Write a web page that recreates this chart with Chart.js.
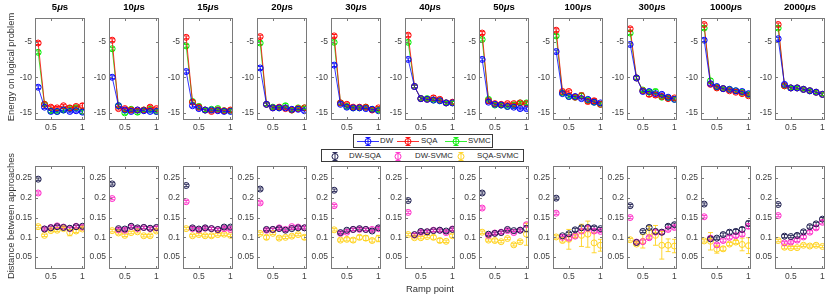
<!DOCTYPE html>
<html>
<head>
<meta charset="utf-8">
<script src="https://cdn.jsdelivr.net/npm/chart.js@4.4.0/dist/chart.umd.min.js"></script>
<style>
  body { margin: 0; background: #fff; width: 830px; height: 296px; position: relative; overflow: hidden;
         font-family: "Liberation Sans", Arial, sans-serif; color: #262626; }
  canvas { position: absolute; }
  .ttl { position: absolute; top: 1px; width: 50px; text-align: center; font-weight: bold; font-size: 9.5px; line-height: 12px; color: #000; }
  .ylab { position: absolute; font-size: 9.4px; color: #333; white-space: nowrap; transform: translate(-50%, -50%) rotate(-90deg); }
  .xlab { position: absolute; font-size: 9.4px; color: #333; white-space: nowrap; transform: translateX(-50%); }
  .legend { position: absolute; border: 1px solid #3a3a3a; background: #fff; font-size: 7.8px; }
  .legend span { position: absolute; top: 0; line-height: 12px; color: #262626; white-space: nowrap; }
  .legend svg { position: absolute; top: -0.5px; }
</style>
</head>
<body>
<script>
// ramp points on the x axis
const rampPoints = [0.3, 0.4, 0.5, 0.6, 0.7, 0.8, 0.9, 1.0];
// annealing times (µs), one column of panels each
const annealTimes = ['5', '10', '15', '20', '30', '40', '50', '100', '300', '1000', '2000'];
const xTicks = [0.5, 1];
const energyTicks = [-15, -10, -5];
const distTicks = [0.05, 0.1, 0.15, 0.2, 0.25];

// top row: energy on logical problem
const energyDW = [
  [-11.4, -14.2, -14.8, -14.8, -14.6, -14.8, -14.7, -14.9],
  [-10.0, -14.0, -14.6, -14.8, -14.6, -14.7, -14.8, -14.8],
  [-9.2, -14.0, -14.4, -14.6, -14.6, -14.7, -14.8, -14.8],
  [-8.7, -13.8, -14.3, -14.3, -14.3, -14.5, -14.5, -14.7],
  [-8.3, -13.8, -14.2, -14.3, -14.3, -14.4, -14.5, -14.7],
  [-7.5, -11.3, -13.0, -13.1, -13.2, -13.3, -13.6, -13.6],
  [-7.5, -13.5, -13.8, -13.9, -14.1, -14.2, -14.4, -14.4],
  [-6.4, -12.3, -12.7, -12.7, -13.0, -13.1, -13.5, -13.6],
  [-5.4, -10.1, -12.0, -12.0, -12.3, -12.4, -12.8, -13.1],
  [-4.8, -10.9, -11.3, -11.6, -11.7, -11.9, -12.0, -12.3],
  [-4.6, -11.0, -11.5, -11.5, -11.7, -11.9, -12.1, -12.4]
];
const energySQA = [
  [-5.2, -13.8, -14.2, -14.3, -14.0, -14.3, -14.1, -14.0],
  [-4.8, -14.4, -14.4, -14.6, -14.6, -14.6, -14.2, -14.4],
  [-4.4, -13.5, -14.2, -14.6, -14.8, -14.6, -14.7, -14.6],
  [-4.3, -13.8, -14.3, -14.2, -14.4, -14.6, -14.4, -14.3],
  [-4.2, -13.6, -13.8, -14.2, -14.2, -14.2, -14.6, -14.3],
  [-4.1, -11.3, -13.0, -13.1, -12.9, -13.1, -13.6, -13.5],
  [-3.8, -13.3, -13.7, -13.8, -13.7, -13.7, -13.6, -13.7],
  [-3.4, -12.0, -12.0, -12.8, -12.6, -13.4, -13.3, -13.8],
  [-3.2, -10.1, -11.9, -12.4, -12.5, -12.7, -13.0, -12.9],
  [-2.6, -11.0, -11.5, -11.6, -11.9, -12.1, -12.3, -12.6],
  [-2.6, -11.2, -11.5, -11.5, -11.7, -11.9, -12.1, -12.4]
];
const energySVMC = [
  [-6.5, -13.8, -14.7, -14.8, -14.6, -14.4, -14.3, -14.8],
  [-6.0, -14.0, -15.0, -14.5, -14.9, -14.6, -14.5, -14.8],
  [-5.6, -13.4, -14.1, -14.6, -14.5, -14.4, -14.7, -14.7],
  [-5.2, -13.8, -14.2, -14.3, -14.0, -14.6, -14.3, -14.3],
  [-5.1, -13.6, -14.1, -14.3, -14.3, -14.2, -14.5, -14.6],
  [-5.1, -11.3, -13.0, -13.0, -13.2, -13.3, -13.6, -13.6],
  [-4.7, -13.1, -13.9, -13.9, -14.1, -13.9, -13.6, -13.6],
  [-4.2, -12.2, -12.7, -12.8, -12.6, -13.2, -13.5, -13.8],
  [-3.8, -10.1, -11.8, -12.1, -12.0, -12.8, -12.9, -13.1],
  [-3.1, -10.5, -11.4, -11.6, -11.7, -11.9, -12.1, -12.4],
  [-3.1, -11.2, -11.5, -11.5, -11.7, -11.9, -12.1, -12.4]
];
const energyErrDW = [
  [0.2, 0.2, 0.2, 0.2, 0.2, 0.2, 0.2, 0.2],
  [0.2, 0.2, 0.2, 0.2, 0.2, 0.2, 0.2, 0.2],
  [0.2, 0.2, 0.2, 0.2, 0.2, 0.2, 0.2, 0.2],
  [0.2, 0.2, 0.2, 0.2, 0.2, 0.2, 0.2, 0.2],
  [0.2, 0.2, 0.2, 0.2, 0.2, 0.2, 0.2, 0.2],
  [0.2, 0.2, 0.2, 0.2, 0.2, 0.2, 0.2, 0.2],
  [0.2, 0.2, 0.2, 0.2, 0.2, 0.2, 0.2, 0.2],
  [0.2, 0.2, 0.2, 0.2, 0.2, 0.2, 0.2, 0.2],
  [0.2, 0.2, 0.2, 0.2, 0.2, 0.2, 0.2, 0.2],
  [0.2, 0.2, 0.2, 0.2, 0.2, 0.2, 0.2, 0.2],
  [0.2, 0.2, 0.2, 0.2, 0.2, 0.2, 0.2, 0.2]
];
const energyErrSQA = [
  [0.2, 0.2, 0.2, 0.2, 0.2, 0.3, 0.2, 0.3],
  [0.2, 0.2, 0.2, 0.2, 0.2, 0.2, 0.2, 0.2],
  [0.2, 0.2, 0.2, 0.2, 0.2, 0.2, 0.2, 0.2],
  [0.2, 0.2, 0.2, 0.2, 0.2, 0.2, 0.2, 0.2],
  [0.2, 0.2, 0.2, 0.2, 0.2, 0.2, 0.2, 0.2],
  [0.2, 0.2, 0.2, 0.2, 0.3, 0.2, 0.2, 0.2],
  [0.2, 0.2, 0.2, 0.2, 0.2, 0.2, 0.2, 0.2],
  [0.2, 0.2, 0.2, 0.2, 0.4, 0.3, 0.3, 0.2],
  [0.2, 0.2, 0.2, 0.3, 0.3, 0.2, 0.2, 0.2],
  [0.2, 0.2, 0.2, 0.2, 0.2, 0.2, 0.2, 0.2],
  [0.2, 0.2, 0.2, 0.2, 0.2, 0.2, 0.2, 0.2]
];
const energyErrSVMC = [
  [0.2, 0.2, 0.3, 0.2, 0.3, 0.2, 0.2, 0.3],
  [0.2, 0.2, 0.2, 0.2, 0.3, 0.2, 0.2, 0.2],
  [0.2, 0.2, 0.3, 0.2, 0.2, 0.2, 0.2, 0.2],
  [0.2, 0.2, 0.2, 0.2, 0.3, 0.2, 0.2, 0.2],
  [0.2, 0.2, 0.2, 0.2, 0.2, 0.2, 0.2, 0.2],
  [0.2, 0.2, 0.2, 0.2, 0.2, 0.2, 0.2, 0.2],
  [0.2, 0.2, 0.2, 0.2, 0.2, 0.2, 0.2, 0.2],
  [0.2, 0.2, 0.2, 0.2, 0.3, 0.3, 0.3, 0.2],
  [0.2, 0.2, 0.2, 0.2, 0.3, 0.2, 0.2, 0.2],
  [0.2, 0.3, 0.2, 0.2, 0.2, 0.2, 0.2, 0.2],
  [0.2, 0.2, 0.2, 0.2, 0.2, 0.2, 0.2, 0.2]
];

// bottom row: distance between approaches
const distDwSqa = [
  [0.247, 0.121, 0.124, 0.127, 0.125, 0.123, 0.127, 0.128],
  [0.235, 0.122, 0.121, 0.128, 0.124, 0.125, 0.123, 0.125],
  [0.231, 0.124, 0.121, 0.124, 0.122, 0.120, 0.126, 0.126],
  [0.222, 0.120, 0.120, 0.122, 0.118, 0.122, 0.124, 0.124],
  [0.219, 0.112, 0.118, 0.120, 0.122, 0.120, 0.116, 0.124],
  [0.193, 0.107, 0.115, 0.114, 0.117, 0.118, 0.116, 0.120],
  [0.212, 0.108, 0.110, 0.112, 0.120, 0.117, 0.118, 0.122],
  [0.199, 0.104, 0.109, 0.119, 0.124, 0.125, 0.124, 0.122],
  [0.180, 0.087, 0.115, 0.125, 0.115, 0.113, 0.128, 0.132],
  [0.184, 0.096, 0.098, 0.107, 0.113, 0.115, 0.120, 0.135],
  [0.183, 0.103, 0.102, 0.105, 0.114, 0.127, 0.134, 0.146]
];
const distDwSvmc = [
  [0.212, 0.121, 0.125, 0.129, 0.126, 0.122, 0.128, 0.126],
  [0.198, 0.119, 0.118, 0.127, 0.122, 0.125, 0.122, 0.124],
  [0.190, 0.122, 0.119, 0.123, 0.122, 0.119, 0.122, 0.120],
  [0.187, 0.118, 0.120, 0.124, 0.120, 0.127, 0.126, 0.124],
  [0.180, 0.110, 0.113, 0.120, 0.120, 0.120, 0.120, 0.122],
  [0.163, 0.106, 0.113, 0.114, 0.118, 0.118, 0.112, 0.121],
  [0.174, 0.105, 0.111, 0.113, 0.117, 0.112, 0.118, 0.132],
  [0.161, 0.100, 0.098, 0.103, 0.116, 0.123, 0.116, 0.115],
  [0.150, 0.088, 0.089, 0.099, 0.113, 0.113, 0.120, 0.125],
  [0.152, 0.098, 0.081, 0.092, 0.100, 0.104, 0.108, 0.128],
  [0.155, 0.086, 0.088, 0.093, 0.101, 0.113, 0.124, 0.138]
];
const distSqaSvmc = [
  [0.127, 0.105, 0.117, 0.118, 0.122, 0.112, 0.116, 0.121],
  [0.117, 0.111, 0.105, 0.112, 0.114, 0.104, 0.104, 0.116],
  [0.122, 0.104, 0.107, 0.104, 0.104, 0.107, 0.108, 0.105],
  [0.110, 0.100, 0.110, 0.098, 0.100, 0.103, 0.107, 0.100],
  [0.119, 0.093, 0.095, 0.093, 0.100, 0.098, 0.092, 0.097],
  [0.107, 0.099, 0.099, 0.102, 0.100, 0.092, 0.090, 0.104],
  [0.113, 0.093, 0.092, 0.089, 0.097, 0.081, 0.089, 0.108],
  [0.101, 0.092, 0.095, 0.104, 0.105, 0.108, 0.086, 0.080],
  [0.094, 0.083, 0.090, 0.113, 0.105, 0.080, 0.080, 0.078],
  [0.091, 0.090, 0.070, 0.071, 0.083, 0.088, 0.082, 0.079],
  [0.092, 0.075, 0.074, 0.074, 0.080, 0.078, 0.080, 0.077]
];
const distErrDwSqa = [
  [0.003, 0.003, 0.003, 0.003, 0.003, 0.003, 0.003, 0.003],
  [0.003, 0.003, 0.003, 0.003, 0.003, 0.003, 0.003, 0.003],
  [0.003, 0.003, 0.003, 0.003, 0.003, 0.003, 0.003, 0.003],
  [0.003, 0.003, 0.003, 0.003, 0.003, 0.003, 0.003, 0.003],
  [0.003, 0.003, 0.003, 0.003, 0.003, 0.003, 0.003, 0.003],
  [0.003, 0.003, 0.003, 0.003, 0.003, 0.003, 0.003, 0.003],
  [0.003, 0.003, 0.003, 0.003, 0.003, 0.003, 0.003, 0.008],
  [0.003, 0.003, 0.003, 0.004, 0.004, 0.004, 0.004, 0.003],
  [0.003, 0.003, 0.003, 0.004, 0.005, 0.005, 0.004, 0.004],
  [0.003, 0.003, 0.003, 0.004, 0.005, 0.005, 0.005, 0.006],
  [0.003, 0.004, 0.003, 0.004, 0.004, 0.004, 0.004, 0.004]
];
const distErrDwSvmc = [
  [0.003, 0.003, 0.003, 0.003, 0.003, 0.003, 0.003, 0.003],
  [0.003, 0.003, 0.003, 0.003, 0.003, 0.003, 0.003, 0.003],
  [0.003, 0.003, 0.003, 0.003, 0.003, 0.003, 0.003, 0.003],
  [0.003, 0.003, 0.003, 0.003, 0.003, 0.003, 0.003, 0.003],
  [0.003, 0.003, 0.003, 0.003, 0.003, 0.003, 0.003, 0.003],
  [0.003, 0.003, 0.003, 0.003, 0.003, 0.003, 0.003, 0.003],
  [0.003, 0.003, 0.003, 0.003, 0.003, 0.003, 0.003, 0.004],
  [0.003, 0.003, 0.004, 0.003, 0.004, 0.004, 0.003, 0.003],
  [0.003, 0.003, 0.004, 0.004, 0.005, 0.004, 0.004, 0.004],
  [0.003, 0.004, 0.004, 0.004, 0.004, 0.004, 0.005, 0.006],
  [0.003, 0.003, 0.003, 0.004, 0.004, 0.004, 0.004, 0.004]
];
const distErrSqaSvmc = [
  [0.003, 0.003, 0.003, 0.003, 0.003, 0.008, 0.004, 0.003],
  [0.003, 0.003, 0.003, 0.003, 0.003, 0.003, 0.003, 0.003],
  [0.003, 0.003, 0.003, 0.003, 0.004, 0.003, 0.003, 0.003],
  [0.003, 0.005, 0.003, 0.003, 0.003, 0.003, 0.003, 0.005],
  [0.003, 0.003, 0.004, 0.005, 0.005, 0.006, 0.004, 0.008],
  [0.003, 0.003, 0.003, 0.003, 0.005, 0.005, 0.003, 0.004],
  [0.003, 0.003, 0.004, 0.003, 0.003, 0.003, 0.003, 0.028],
  [0.003, 0.004, 0.025, 0.004, 0.028, 0.033, 0.025, 0.015],
  [0.003, 0.003, 0.017, 0.015, 0.025, 0.035, 0.016, 0.017],
  [0.003, 0.022, 0.010, 0.005, 0.004, 0.004, 0.016, 0.020],
  [0.003, 0.004, 0.003, 0.003, 0.003, 0.003, 0.003, 0.003]
];

const colDW = '#0000ff', colSQA = '#ff0000', colSVMC = '#00ee00';
const colDwSqa = '#1b1b4d', colDwSvmc = '#ff2bc8', colSqaSvmc = '#ffd21e';

// error bars + MATLAB style box with inward ticks
const boxPlugin = {
  id: 'boxPlugin',
  beforeDatasetsDraw(chart) {
    const ctx = chart.ctx, yS = chart.scales.y;
    chart.data.datasets.forEach((ds, k) => {
      const meta = chart.getDatasetMeta(k);
      ctx.save();
      ctx.strokeStyle = ds.borderColor;
      ctx.lineWidth = 0.9;
      meta.data.forEach((pt, j) => {
        const v = ds.data[j].y, e = ds.errors[j];
        const y0 = yS.getPixelForValue(v - e), y1 = yS.getPixelForValue(v + e);
        ctx.beginPath();
        ctx.moveTo(pt.x, y0); ctx.lineTo(pt.x, y1);
        ctx.moveTo(pt.x - 2.5, y0); ctx.lineTo(pt.x + 2.5, y0);
        ctx.moveTo(pt.x - 2.5, y1); ctx.lineTo(pt.x + 2.5, y1);
        ctx.stroke();
      });
      ctx.restore();
    });
  },
  afterDraw(chart) {
    const ctx = chart.ctx, a = chart.chartArea;
    const l = Math.round(a.left) + 0.5, r = Math.round(a.right) - 0.5;
    const t = Math.round(a.top) + 0.5, b = Math.round(a.bottom) - 0.5;
    ctx.save();
    ctx.strokeStyle = '#7a7a7a';
    ctx.lineWidth = 1;
    ctx.strokeRect(l, t, r - l, b - t);
    ctx.beginPath();
    chart.scales.x.ticks.forEach(tk => {
      const x = Math.round(chart.scales.x.getPixelForValue(tk.value)) + 0.5;
      ctx.moveTo(x, b); ctx.lineTo(x, b - 2.5);
      ctx.moveTo(x, t); ctx.lineTo(x, t + 2.5);
    });
    chart.scales.y.ticks.forEach(tk => {
      const y = Math.round(chart.scales.y.getPixelForValue(tk.value)) + 0.5;
      ctx.moveTo(l, y); ctx.lineTo(l + 2.5, y);
      ctx.moveTo(r, y); ctx.lineTo(r - 2.5, y);
    });
    ctx.stroke();
    ctx.restore();
  }
};

function series(values, errors, color, withLine) {
  return {
    data: rampPoints.map((x, j) => ({ x: x, y: values[j] })),
    errors: errors,
    borderColor: color,
    backgroundColor: color,
    showLine: withLine,
    borderWidth: 0.8,
    pointStyle: 'circle',
    pointRadius: 3,
    pointBorderWidth: 1,
    pointBorderColor: color,
    pointBackgroundColor: 'rgba(0,0,0,0)',
    tension: 0
  };
}

function makePanel(i, row) {
  const yAxisW = 30, plotW = 50, padTop = 4, padRight = 6, xAxisH = 16;
  const plotLeft = 35 + 74 * i;
  const plotTop = row === 0 ? 14 : 162;
  const plotH = row === 0 ? 106 : 107;
  const canvas = document.createElement('canvas');
  canvas.width = yAxisW + plotW + padRight;
  canvas.height = padTop + plotH + xAxisH;
  canvas.style.left = (plotLeft - yAxisW) + 'px';
  canvas.style.top = (plotTop - padTop) + 'px';
  document.body.appendChild(canvas);

  const datasets = row === 0 ? [
    series(energyDW[i], energyErrDW[i], colDW, true),
    series(energySQA[i], energyErrSQA[i], colSQA, true),
    series(energySVMC[i], energyErrSVMC[i], colSVMC, true)
  ] : [
    series(distDwSqa[i], distErrDwSqa[i], colDwSqa, false),
    series(distDwSvmc[i], distErrDwSvmc[i], colDwSvmc, false),
    series(distSqaSvmc[i], distErrSqaSvmc[i], colSqaSvmc, false)
  ];
  const yTickVals = row === 0 ? energyTicks : distTicks;
  const tickFont = { family: '"Liberation Sans", Arial, sans-serif', size: 8.5 };

  new Chart(canvas, {
    type: 'scatter',
    data: { datasets: datasets },
    plugins: [boxPlugin],
    options: {
      responsive: false,
      animation: false,
      devicePixelRatio: 1,
      layout: { padding: { top: padTop, right: padRight, left: 0, bottom: 0 } },
      plugins: { legend: { display: false }, tooltip: { enabled: false } },
      scales: {
        x: {
          type: 'linear', min: 0.25, max: 1.04,
          afterBuildTicks: s => { s.ticks = xTicks.map(v => ({ value: v })); },
          afterFit: s => { s.height = xAxisH; },
          grid: { display: false, drawTicks: false },
          border: { display: false },
          ticks: { padding: 3, color: '#404040', font: tickFont, maxRotation: 0,
                   callback: v => String(v) }
        },
        y: {
          type: 'linear',
          min: row === 0 ? -16 : 0.02,
          max: row === 0 ? -1.7 : 0.28,
          afterBuildTicks: s => { s.ticks = yTickVals.map(v => ({ value: v })); },
          afterFit: s => { s.width = yAxisW; },
          grid: { display: false, drawTicks: false },
          border: { display: false },
          ticks: { padding: 3, color: '#404040', font: tickFont,
                   callback: v => String(v) }
        }
      }
    }
  });

  if (row === 0) {
    const t = document.createElement('div');
    t.className = 'ttl';
    t.style.left = plotLeft + 'px';
    t.innerHTML = annealTimes[i] + '<i>μ</i>s';
    document.body.appendChild(t);
  }
}

for (let i = 0; i < annealTimes.length; i++) {
  makePanel(i, 0);
  makePanel(i, 1);
}

// axis titles
function addText(cls, text, x, y) {
  const d = document.createElement('div');
  d.className = cls;
  d.textContent = text;
  d.style.left = x + 'px';
  d.style.top = y + 'px';
  document.body.appendChild(d);
}
addText('ylab', 'Energy on logical problem', 10, 67);
addText('ylab', 'Distance between approaches', 10, 216);
addText('xlab', 'Ramp point', 430, 283);

// legends
function legendIcon(color, withLine, x) {
  const line = withLine ? `<line x1="0" y1="6.5" x2="22" y2="6.5" stroke="${color}" stroke-width="0.8"/>` : '';
  return `<svg style="left:${x}px" width="22" height="13" viewBox="0 0 22 13">${line}
    <line x1="11" y1="2.5" x2="11" y2="10.5" stroke="${color}" stroke-width="0.9"/>
    <line x1="8.5" y1="2.5" x2="13.5" y2="2.5" stroke="${color}" stroke-width="0.9"/>
    <line x1="8.5" y1="10.5" x2="13.5" y2="10.5" stroke="${color}" stroke-width="0.9"/>
    <circle cx="11" cy="6.5" r="3" fill="none" stroke="${color}" stroke-width="1"/></svg>`;
}
function makeLegend(left, top, width, height, items) {
  const box = document.createElement('div');
  box.className = 'legend';
  box.style.left = left + 'px';
  box.style.top = top + 'px';
  box.style.width = width + 'px';
  box.style.height = height + 'px';
  items.forEach(it => {
    box.insertAdjacentHTML('beforeend',
      legendIcon(it.color, it.line, it.iconX) +
      `<span style="left:${it.textX}px">${it.label}</span>`);
  });
  document.body.appendChild(box);
}
const topLegendLabels = ['DW', 'SQA', 'SVMC'];
const bottomLegendLabels = ['DW-SQA', 'DW-SVMC', 'SQA-SVMC'];
makeLegend(353, 134, 138, 12, [
  { label: topLegendLabels[0], color: colDW, line: true, iconX: 2.5, textX: 26 },
  { label: topLegendLabels[1], color: colSQA, line: true, iconX: 43, textX: 67 },
  { label: topLegendLabels[2], color: colSVMC, line: true, iconX: 91, textX: 114 }
]);
makeLegend(321, 149, 201, 11, [
  { label: bottomLegendLabels[0], color: colDwSqa, line: false, iconX: 1.5, textX: 27 },
  { label: bottomLegendLabels[1], color: colDwSvmc, line: false, iconX: 64.5, textX: 93 },
  { label: bottomLegendLabels[2], color: colSqaSvmc, line: false, iconX: 128, textX: 155 }
]);
</script>
</body>
</html>
